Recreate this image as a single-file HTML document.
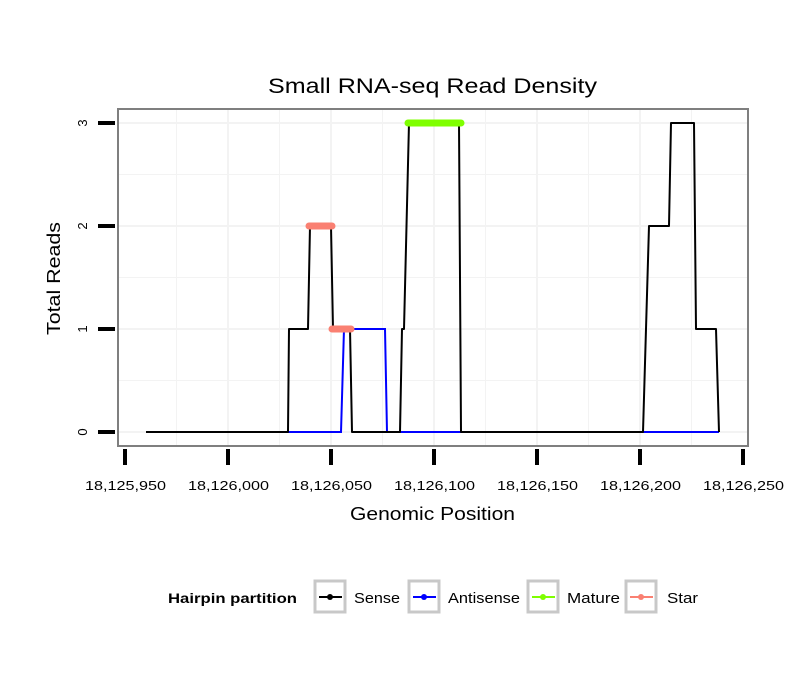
<!DOCTYPE html>
<html><head><meta charset="utf-8"><style>
body{margin:0;background:#fff}
svg text{font-family:"Liberation Sans",sans-serif}
</style></head><body>
<svg width="810" height="690" xmlns="http://www.w3.org/2000/svg">
<rect width="810" height="690" fill="#fff"/>
<text x="268" y="93" font-size="21" textLength="329" lengthAdjust="spacingAndGlyphs">Small RNA-seq Read Density</text>
<g stroke="#f3f3f3" stroke-width="1">
<line x1="118" x2="748" y1="174.5" y2="174.5"/><line x1="118" x2="748" y1="277.5" y2="277.5"/><line x1="118" x2="748" y1="380.5" y2="380.5"/>
<line x1="176.5" x2="176.5" y1="109" y2="446"/><line x1="279.5" x2="279.5" y1="109" y2="446"/><line x1="382.5" x2="382.5" y1="109" y2="446"/><line x1="485.5" x2="485.5" y1="109" y2="446"/><line x1="588.5" x2="588.5" y1="109" y2="446"/><line x1="691.5" x2="691.5" y1="109" y2="446"/>
</g>
<g stroke="#f3f3f3" stroke-width="2">
<line x1="118" x2="748" y1="123" y2="123"/><line x1="118" x2="748" y1="226" y2="226"/><line x1="118" x2="748" y1="329" y2="329"/><line x1="118" x2="748" y1="432" y2="432"/>
<line x1="228" x2="228" y1="109" y2="446"/><line x1="331" x2="331" y1="109" y2="446"/><line x1="434" x2="434" y1="109" y2="446"/><line x1="537" x2="537" y1="109" y2="446"/><line x1="640" x2="640" y1="109" y2="446"/>
</g>
<polyline fill="none" stroke="#0000ff" stroke-width="2" points="146,432 341,432 344,329 385,329 387,432 719,432"/>
<polyline fill="none" stroke="#000" stroke-width="2" stroke-linejoin="round" points="146,432 288,432 289,329 308,329 310,226 331,226 333,329 349,329 350,329 352,432 400,432 402,329 404,329 409,123 459,123 461,432 643,432 649,226 669,226 671,123 694,123 696,329 716,329 719,432"/>
<g stroke="#fa8072" stroke-width="7" stroke-linecap="round"><line x1="309" x2="332" y1="226" y2="226"/><line x1="332" x2="351" y1="329" y2="329"/></g>
<line x1="408" x2="461" y1="123" y2="123" stroke="#7fff00" stroke-width="7" stroke-linecap="round"/>
<rect x="118" y="109" width="630" height="337" fill="none" stroke="#7f7f7f" stroke-width="2"/>
<g stroke="#000" stroke-width="4">
<line x1="98" x2="115" y1="123" y2="123"/><line x1="98" x2="115" y1="226" y2="226"/><line x1="98" x2="115" y1="329" y2="329"/><line x1="98" x2="115" y1="432" y2="432"/>
<line x1="125" x2="125" y1="449" y2="465"/><line x1="228" x2="228" y1="449" y2="465"/><line x1="331" x2="331" y1="449" y2="465"/><line x1="434" x2="434" y1="449" y2="465"/><line x1="537" x2="537" y1="449" y2="465"/><line x1="640" x2="640" y1="449" y2="465"/><line x1="743" x2="743" y1="449" y2="465"/>
</g>
<g font-size="13">
<text x="85" y="490" textLength="81" lengthAdjust="spacingAndGlyphs">18,125,950</text>
<text x="188" y="490" textLength="81" lengthAdjust="spacingAndGlyphs">18,126,000</text>
<text x="291" y="490" textLength="81" lengthAdjust="spacingAndGlyphs">18,126,050</text>
<text x="394" y="490" textLength="81" lengthAdjust="spacingAndGlyphs">18,126,100</text>
<text x="497" y="490" textLength="81" lengthAdjust="spacingAndGlyphs">18,126,150</text>
<text x="600" y="490" textLength="81" lengthAdjust="spacingAndGlyphs">18,126,200</text>
<text x="703" y="490" textLength="81" lengthAdjust="spacingAndGlyphs">18,126,250</text>
</g>
<g font-size="13" text-anchor="middle">
<text transform="translate(87,123) rotate(-90)">3</text><text transform="translate(87,226) rotate(-90)">2</text><text transform="translate(87,329) rotate(-90)">1</text><text transform="translate(87,432) rotate(-90)">0</text>
</g>
<text x="350" y="520" font-size="18" textLength="165" lengthAdjust="spacingAndGlyphs">Genomic Position</text>
<text transform="translate(60,335) rotate(-90)" font-size="18" textLength="113" lengthAdjust="spacingAndGlyphs">Total Reads</text>
<text x="168" y="603" font-size="14" font-weight="bold" textLength="129" lengthAdjust="spacingAndGlyphs">Hairpin partition</text>
<g fill="none" stroke="#c8c8c8" stroke-width="3">
<rect x="315" y="581" width="30" height="31"/><rect x="409" y="581" width="30" height="31"/><rect x="528" y="581" width="30" height="31"/><rect x="626" y="581" width="30" height="31"/>
</g>
<g stroke-width="2">
<line x1="319" x2="342" y1="597" y2="597" stroke="#000"/><circle cx="330" cy="597" r="3" fill="#000"/>
<line x1="413" x2="436" y1="597" y2="597" stroke="#0000ff"/><circle cx="424" cy="597" r="3" fill="#0000ff"/>
<line x1="532" x2="555" y1="597" y2="597" stroke="#7fff00"/><circle cx="543" cy="597" r="3" fill="#7fff00"/>
<line x1="630" x2="653" y1="597" y2="597" stroke="#fa8072"/><circle cx="641" cy="597" r="3" fill="#fa8072"/>
</g>
<g font-size="15">
<text x="354" y="603" textLength="46" lengthAdjust="spacingAndGlyphs">Sense</text>
<text x="448" y="603" textLength="72" lengthAdjust="spacingAndGlyphs">Antisense</text>
<text x="567" y="603" textLength="53" lengthAdjust="spacingAndGlyphs">Mature</text>
<text x="667" y="603" textLength="31" lengthAdjust="spacingAndGlyphs">Star</text>
</g>
</svg>
</body></html>
